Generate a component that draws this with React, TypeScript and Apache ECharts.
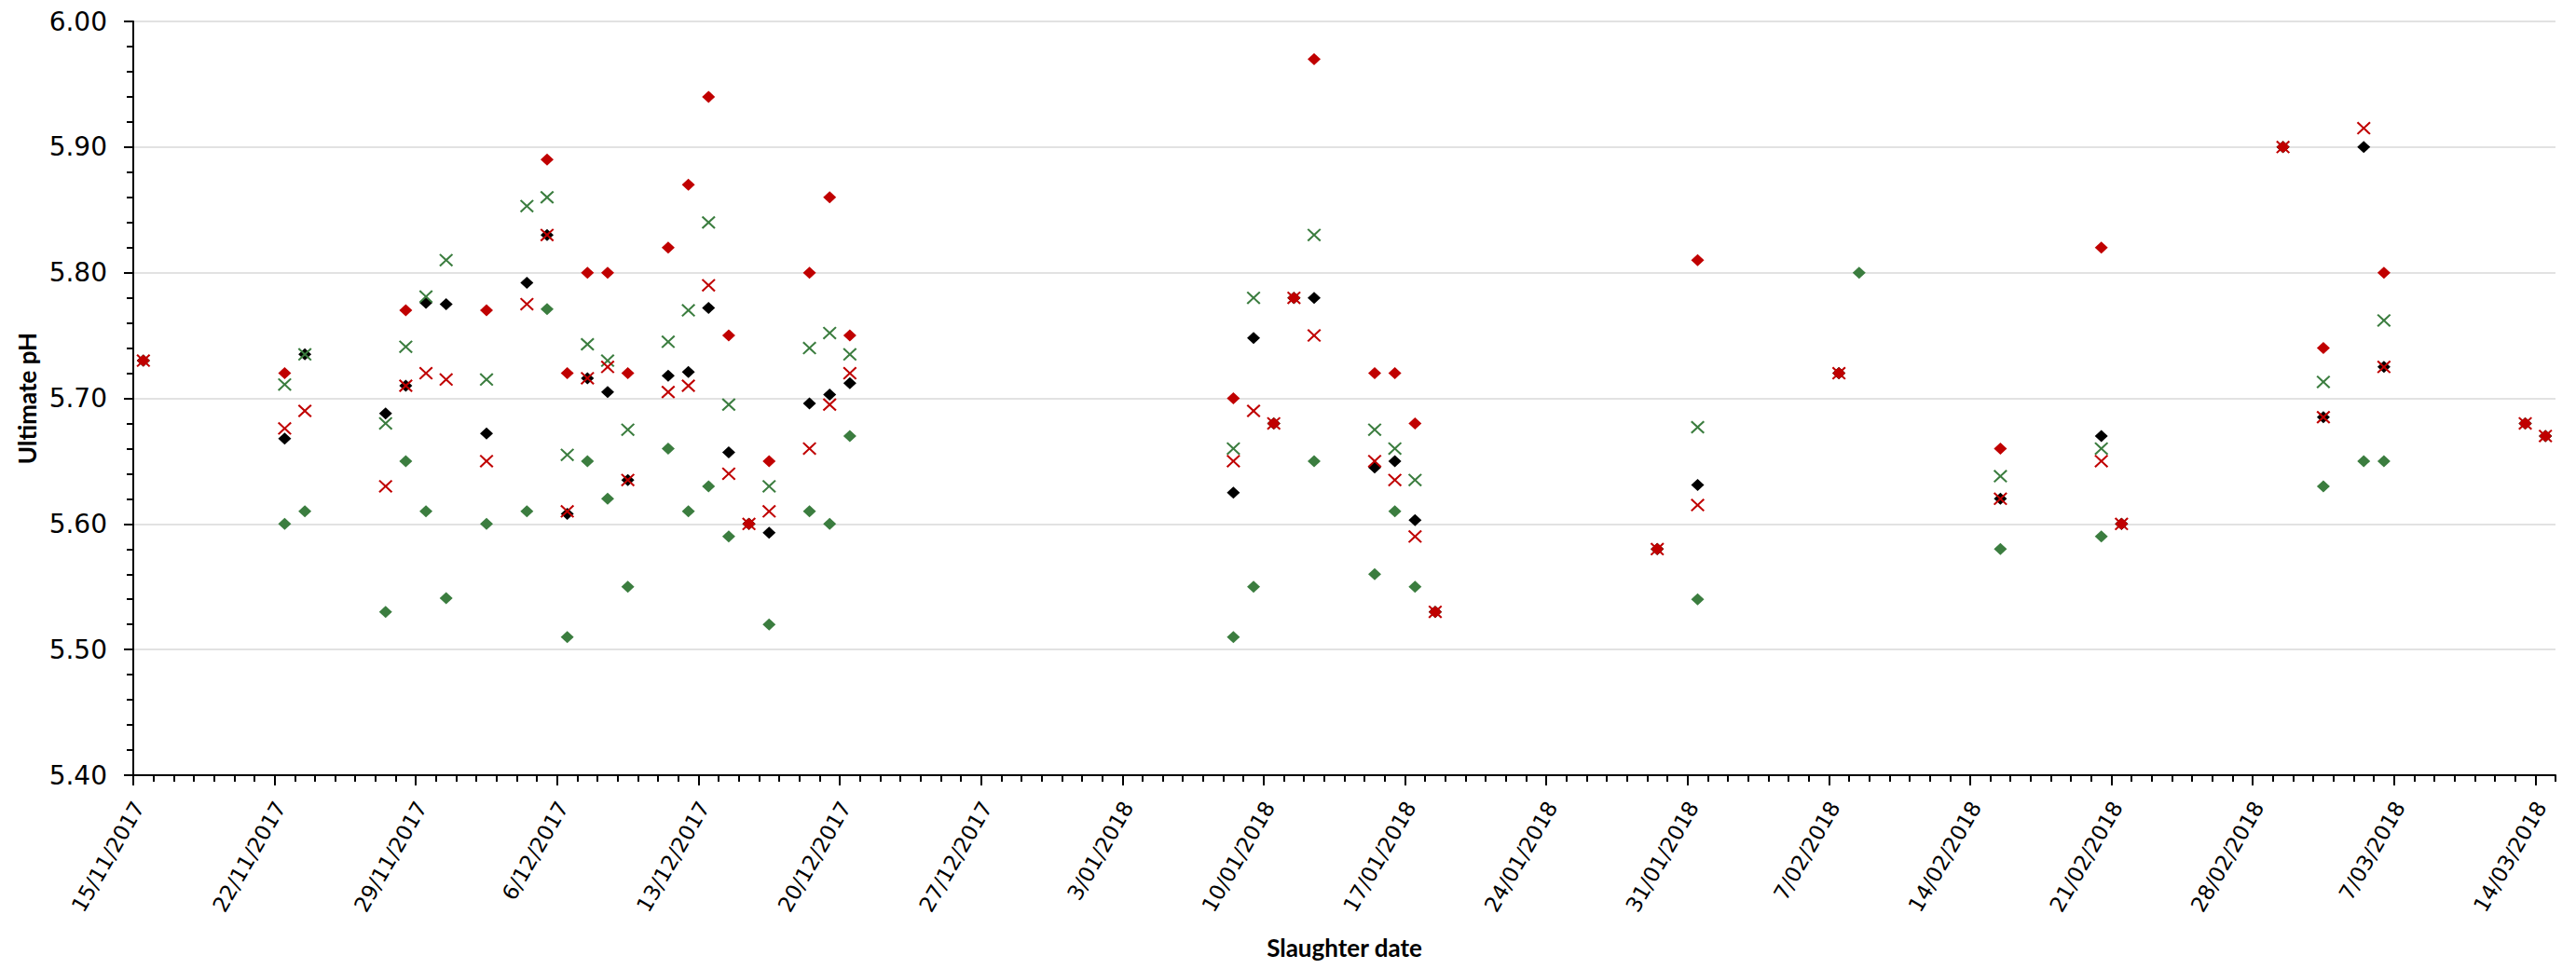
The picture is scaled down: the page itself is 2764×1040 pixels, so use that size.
import React, { useEffect, useRef } from "react";
import * as echarts from "echarts";

// Slaughter dates (d/mm/yyyy)
const dates = [
  "15/11/2017", "22/11/2017", "23/11/2017", "27/11/2017", "28/11/2017", "29/11/2017", "30/11/2017",
  "2/12/2017", "4/12/2017", "5/12/2017", "6/12/2017", "7/12/2017", "8/12/2017", "9/12/2017",
  "11/12/2017", "12/12/2017", "13/12/2017", "14/12/2017", "15/12/2017", "16/12/2017", "18/12/2017",
  "19/12/2017", "20/12/2017",
  "8/01/2018", "9/01/2018", "10/01/2018", "11/01/2018", "12/01/2018", "15/01/2018", "16/01/2018",
  "17/01/2018", "18/01/2018", "29/01/2018", "31/01/2018",
  "7/02/2018", "8/02/2018", "15/02/2018", "20/02/2018", "21/02/2018",
  "1/03/2018", "3/03/2018", "5/03/2018", "6/03/2018", "13/03/2018", "14/03/2018",
];

// red diamonds
const redDiamond = [
  5.73, 5.72, null, null, 5.77, null, null,
  5.77, null, 5.89, 5.72, 5.8, 5.8, 5.72,
  5.82, 5.87, 5.94, 5.75, 5.6, 5.65, 5.8,
  5.86, 5.75,
  5.7, null, 5.68, 5.78, 5.97, 5.72, 5.72,
  5.68, 5.53, 5.58, 5.81,
  5.72, null, 5.66, 5.82, 5.6,
  5.9, 5.74, null, 5.8, 5.68, 5.67,
];

// green diamonds
const greenDiamond = [
  5.73, 5.6, 5.61, 5.53, 5.65, 5.61, 5.541,
  5.6, 5.61, 5.771, 5.51, 5.65, 5.62, 5.55,
  5.66, 5.61, 5.63, 5.59, 5.6, 5.52, 5.61,
  5.6, 5.67,
  5.51, 5.55, 5.68, 5.78, 5.65, 5.56, 5.61,
  5.55, 5.53, 5.58, 5.54,
  5.72, 5.8, 5.58, 5.59, 5.6,
  5.9, 5.63, 5.65, 5.65, 5.68, 5.67,
];

// black diamonds
const blackDiamond = [
  5.73, 5.668, 5.735, 5.688, 5.71, 5.776, 5.775,
  5.672, 5.792, 5.83, 5.608, 5.716, 5.705, 5.635,
  5.718, 5.721, 5.772, 5.657, 5.6, 5.593, 5.696,
  5.703, 5.712,
  5.625, 5.748, 5.68, 5.78, 5.78, 5.645, 5.65,
  5.603, 5.53, 5.58, 5.631,
  5.72, null, 5.62, 5.67, 5.6,
  5.9, 5.685, 5.9, 5.725, 5.68, 5.67,
];

// red crosses
const redCross = [
  5.73, 5.676, 5.69, 5.63, 5.71, 5.72, 5.715,
  5.65, 5.775, 5.83, 5.61, 5.716, 5.725, 5.635,
  5.705, 5.71, 5.79, 5.64, 5.6, 5.61, 5.66,
  5.695, 5.72,
  5.65, 5.69, 5.68, 5.78, 5.75, 5.65, 5.635,
  5.59, 5.53, 5.58, 5.615,
  5.72, null, 5.62, 5.65, 5.6,
  5.9, 5.685, 5.915, 5.725, 5.68, 5.67,
];

// green crosses
const greenCross = [
  null, 5.711, 5.735, 5.68, 5.741, 5.781, 5.81,
  5.715, 5.853, 5.86, 5.655, 5.743, 5.73, 5.675,
  5.745, 5.77, 5.84, 5.695, null, 5.63, 5.74,
  5.752, 5.735,
  5.66, 5.78, null, null, 5.83, 5.675, 5.66,
  5.635, null, null, 5.677,
  null, null, 5.638, 5.66, null,
  null, 5.713, null, 5.762, null, null,
];

const xTickLabels = [
  "15/11/2017", "22/11/2017", "29/11/2017", "6/12/2017", "13/12/2017", "20/12/2017",
  "27/12/2017", "3/01/2018", "10/01/2018", "17/01/2018", "24/01/2018", "31/01/2018",
  "7/02/2018", "14/02/2018", "21/02/2018", "28/02/2018", "7/03/2018", "14/03/2018",
];

const AXIS_START = "15/11/2017";
const AXIS_DAYS = 120;
const LABEL_DAYS = 119;

function toUTC(s: string) {
  const [d, m, y] = s.split("/").map(Number);
  return Date.UTC(y, m - 1, d);
}
const T0 = toUTC(AXIS_START);
function dayPos(s: string) {
  return (toUTC(s) - T0) / 86400000 + 0.5;
}

function pts(vals: (number | null)[]) {
  const out: [number, number][] = [];
  vals.forEach((v, i) => {
    if (v !== null && v !== undefined) out.push([dayPos(dates[i]), v]);
  });
  return out;
}

const RED = "#C00000";
const GREEN = "#3B7D3F";
const BLACK = "#000000";
const CROSS =
  "path://M0,1.4L1.4,0L7,5.6L12.6,0L14,1.4L8.4,7L14,12.6L12.6,14L7,8.4L1.4,14L0,12.6L5.6,7Z";

const TICK_FONT = "'DejaVu Sans', Verdana, sans-serif";
const TITLE_FONT = "Lato, 'Liberation Sans', sans-serif";

export default function App() {
  const ref = useRef<HTMLDivElement>(null);
  useEffect(() => {
    if (!ref.current) return;
    const chart = echarts.init(ref.current, undefined, { renderer: "svg" });
    const L = 143;
    const T = 23;
    const W = 2599;
    const H = 809;
    const hiddenY = (gi: number) => ({ gridIndex: gi, type: "value", show: false, min: 0, max: 1 });
    const diamond = (name: string, color: string, vals: (number | null)[]) => ({
      name,
      type: "scatter",
      xAxisIndex: 0,
      yAxisIndex: 0,
      symbol: "diamond",
      symbolSize: [14, 13],
      itemStyle: { color, opacity: 1 },
      data: pts(vals),
    });
    const cross = (name: string, color: string, vals: (number | null)[]) => ({
      name,
      type: "scatter",
      xAxisIndex: 0,
      yAxisIndex: 0,
      symbol: CROSS,
      symbolSize: [15, 14],
      itemStyle: { color, opacity: 1 },
      data: pts(vals),
    });
    chart.setOption({
      animation: false,
      backgroundColor: "#ffffff",
      grid: [
        { left: L, top: T, width: W, height: H },
        { left: L, top: T, width: (W * LABEL_DAYS) / AXIS_DAYS, height: H },
        { left: L + 6, top: T, width: (W * LABEL_DAYS) / AXIS_DAYS, height: H },
      ],
      xAxis: [
        {
          gridIndex: 0,
          type: "value",
          min: 0,
          max: AXIS_DAYS,
          interval: 1,
          axisLine: { show: true, onZero: false, lineStyle: { color: "#000", width: 2 } },
          axisTick: { show: true, length: 7, lineStyle: { color: "#000", width: 2 } },
          axisLabel: { show: false },
          splitLine: { show: false },
          name: "Slaughter date",
          nameLocation: "middle",
          nameGap: 172,
          nameTextStyle: { fontFamily: TITLE_FONT, fontSize: 26, fontWeight: "bold", color: "#000" },
        },
        {
          gridIndex: 1,
          type: "value",
          min: 0,
          max: LABEL_DAYS,
          interval: 7,
          axisLine: { show: false, onZero: false },
          axisTick: { show: true, length: 11, lineStyle: { color: "#000", width: 2 } },
          axisLabel: { show: false },
          splitLine: { show: false },
        },
        {
          gridIndex: 2,
          type: "value",
          min: 0,
          max: LABEL_DAYS,
          interval: 7,
          axisLine: { show: false, onZero: false },
          axisTick: { show: false },
          axisLabel: {
            show: true,
            rotate: 60,
            margin: 30,
            fontFamily: TICK_FONT,
            fontSize: 23,
            color: "#000",
            formatter: (v: number) => xTickLabels[Math.round(v / 7)] ?? "",
          },
          splitLine: { show: false },
        },
      ],
      yAxis: [
        {
          gridIndex: 0,
          type: "value",
          min: 5.4,
          max: 6.0,
          interval: 0.1,
          axisLine: { show: true, lineStyle: { color: "#000", width: 2 } },
          axisTick: { show: true, length: 10, lineStyle: { color: "#000", width: 2 } },
          minorTick: { show: true, splitNumber: 5, length: 7, lineStyle: { color: "#000", width: 2 } },
          axisLabel: {
            margin: 28,
            fontFamily: TICK_FONT,
            fontSize: 28,
            color: "#000",
            formatter: (v: number) => v.toFixed(2),
          },
          splitLine: { show: true, lineStyle: { color: "#d9d9d9", width: 1.5 } },
          name: "Ultimate pH",
          nameLocation: "middle",
          nameRotate: 90,
          nameGap: 90,
          nameTextStyle: { fontFamily: TITLE_FONT, fontSize: 26, fontWeight: "bold", color: "#000" },
        },
        hiddenY(1),
        hiddenY(2),
      ],
      series: [
        diamond("Green diamond", GREEN, greenDiamond),
        diamond("Black diamond", BLACK, blackDiamond),
        diamond("Red diamond", RED, redDiamond),
        cross("Green cross", GREEN, greenCross),
        cross("Red cross", RED, redCross),
      ],
    });
    return () => chart.dispose();
  }, []);
  return (
    <div
      ref={ref}
      style={{ position: "fixed", left: 0, top: 0, width: 2764, height: 1040, background: "#fff" }}
    />
  );
}
